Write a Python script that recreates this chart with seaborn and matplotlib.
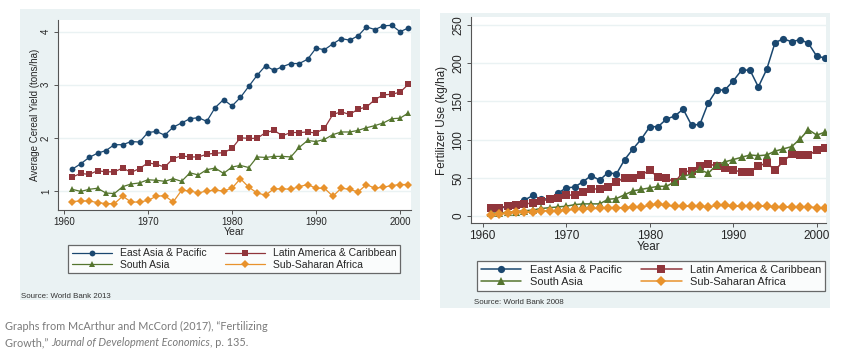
import numpy as np
import pandas as pd
import matplotlib
matplotlib.use("Agg")
import matplotlib.pyplot as plt
import seaborn as sns

# ---- data ----
years = list(range(1961, 2002))
regions = ["East Asia & Pacific", "Latin America & Caribbean", "South Asia", "Sub-Saharan Africa"]

yield_eap = [1.41, 1.51, 1.63, 1.71, 1.76, 1.87, 1.87, 1.93, 1.92, 2.10, 2.12, 2.05, 2.20, 2.28,
             2.36, 2.38, 2.31, 2.57, 2.72, 2.60, 2.76, 2.97, 3.18, 3.36, 3.27, 3.34, 3.40, 3.40,
             3.48, 3.69, 3.66, 3.77, 3.87, 3.84, 3.92, 4.09, 4.04, 4.11, 4.12, 4.00, 4.07]
yield_lac = [1.26, 1.33, 1.31, 1.38, 1.36, 1.36, 1.43, 1.35, 1.42, 1.53, 1.50, 1.45, 1.61, 1.66,
             1.64, 1.64, 1.69, 1.71, 1.72, 1.80, 2.00, 1.99, 1.99, 2.10, 2.14, 2.04, 2.10, 2.10,
             2.11, 2.09, 2.18, 2.44, 2.49, 2.44, 2.54, 2.58, 2.72, 2.81, 2.82, 2.86, 3.01]
yield_sa = [1.03, 0.99, 1.03, 1.05, 0.96, 0.95, 1.08, 1.13, 1.15, 1.21, 1.20, 1.18, 1.23, 1.18,
            1.34, 1.30, 1.40, 1.43, 1.33, 1.45, 1.48, 1.44, 1.64, 1.63, 1.65, 1.65, 1.64, 1.82,
            1.95, 1.93, 1.97, 2.06, 2.11, 2.11, 2.14, 2.19, 2.23, 2.28, 2.36, 2.37, 2.47]
yield_ssa = [0.80, 0.81, 0.81, 0.78, 0.76, 0.76, 0.90, 0.79, 0.79, 0.82, 0.90, 0.91, 0.79, 1.01,
             1.00, 0.96, 1.00, 1.01, 1.00, 1.05, 1.23, 1.07, 0.96, 0.92, 1.04, 1.04, 1.03, 1.08,
             1.12, 1.05, 1.05, 0.90, 1.05, 1.03, 0.98, 1.12, 1.05, 1.07, 1.10, 1.12, 1.12]

fert_eap = [10, 10, 13, 14, 21, 27, 22, 23, 30, 37, 38, 45, 53, 47, 57, 55, 74, 88, 101, 117,
            117, 127, 131, 140, 119, 120, 148, 165, 165, 177, 191, 191, 169, 192, 227, 232, 228,
            231, 226, 209, 207]
fert_lac = [10, 11, 13, 14, 16, 17, 20, 22, 24, 27, 28, 32, 35, 36, 38, 45, 50, 50, 54, 60,
            51, 50, 44, 58, 59, 66, 68, 66, 63, 60, 58, 58, 65, 70, 60, 72, 81, 80, 80, 86, 89]
fert_sa = [4, 4, 5, 6, 7, 8, 10, 11, 12, 13, 15, 16, 16, 16, 22, 23, 28, 33, 35, 37, 39, 39,
           45, 52, 55, 61, 56, 67, 71, 74, 77, 80, 79, 80, 85, 88, 91, 101, 113, 106, 110]
fert_ssa = [2, 3, 4, 5, 5, 6, 7, 7, 7, 8, 9, 9, 10, 10, 11, 11, 11, 12, 12, 14, 16, 14, 13,
            13, 13, 13, 12, 14, 14, 13, 13, 13, 13, 13, 12, 12, 12, 12, 12, 11, 11]

palette = {"East Asia & Pacific": "#1a476f", "Latin America & Caribbean": "#90353b",
           "South Asia": "#55752f", "Sub-Saharan Africa": "#e8922c"}
markers = {"East Asia & Pacific": "o", "Latin America & Caribbean": "s",
           "South Asia": "^", "Sub-Saharan Africa": "D"}


def to_long(series_list, col):
    frames = []
    for reg, vals in zip(regions, series_list):
        frames.append(pd.DataFrame({"Year": years, col: vals, "Region": reg}))
    return pd.concat(frames, ignore_index=True)


yield_df = to_long([yield_eap, yield_lac, yield_sa, yield_ssa], "Yield")
fert_df = to_long([fert_eap, fert_lac, fert_sa, fert_ssa], "Fert")

sns.set_style("white")
plt.rcParams['font.family'] = ['Liberation Sans', 'DejaVu Sans']

W, H = 850, 351
fig = plt.figure(figsize=(8.5, 3.51), dpi=100)
panel_bg = "#eaf2f3"


def box(x0, y0, x1, y1):
    # pixel box (top-left origin) -> figure fraction rect
    return [x0 / W, (H - y1) / H, (x1 - x0) / W, (y1 - y0) / H]


def panel(x0, y0, x1, y1):
    bg = fig.add_axes(box(x0, y0, x1, y1), zorder=0)
    bg.set_facecolor(panel_bg)
    bg.set_xticks([])
    bg.set_yticks([])
    for s in bg.spines.values():
        s.set_visible(False)
    return bg


def style_axes(ax, fs):
    ax.set_facecolor("white")
    for side in ["top", "right"]:
        ax.spines[side].set_visible(False)
    for side in ["left", "bottom"]:
        ax.spines[side].set_color("#555555")
        ax.spines[side].set_linewidth(0.8)
    ax.grid(axis="y", color=panel_bg, linewidth=1.0)
    ax.grid(axis="x", visible=False)
    ax.tick_params(axis="both", direction="out", length=3, width=0.7, color="#555555",
                   labelsize=fs, pad=2, left=True, bottom=True)
    for lab in ax.get_yticklabels():
        lab.set_rotation(90)
        lab.set_va("center")


def make_legend(ax, fs, center, ms, hl):
    handles, labels = ax.get_legend_handles_labels()
    ax.get_legend().remove()
    order = [0, 2, 1, 3]
    for h in handles:
        h.set_markersize(ms)
    leg = fig.legend([handles[i] for i in order], [labels[i] for i in order],
                     loc="center", bbox_to_anchor=(center[0] / W, (H - center[1]) / H),
                     ncol=2, fontsize=fs, frameon=True, fancybox=False, edgecolor="#444444",
                     handlelength=hl, columnspacing=1.8, handletextpad=0.75,
                     labelspacing=0.15, borderpad=0.35)
    leg.get_frame().set_linewidth(0.9)
    return leg


# ---- left panel: cereal yield ----
panel(20, 9, 420, 300)
ax1 = fig.add_axes(box(58, 20, 411, 210), zorder=1)
sns.lineplot(data=yield_df, x="Year", y="Yield", hue="Region", style="Region",
             palette=palette, markers=markers, dashes=False, markersize=4.2,
             markeredgewidth=0, linewidth=0.9, ax=ax1)
ax1.set_xlim(1959.3, 2001.3)
ax1.set_ylim(0.64, 4.22)
ax1.set_xticks([1960, 1970, 1980, 1990, 2000])
ax1.set_yticks([1, 2, 3, 4])
style_axes(ax1, 7)
ax1.set_xlabel("Year", fontsize=7.5, labelpad=0)
ax1.set_ylabel("Average Cereal Yield (tons/ha)", fontsize=7, labelpad=1)
make_legend(ax1, 7.5, (234, 259), 4.2, 3.85)
fig.text(21 / W, (H - 296) / H, "Source: World Bank 2013", fontsize=5.7,
         color="#333333", va="center")

# ---- right panel: fertilizer use ----
panel(440, 13, 830, 308)
ax2 = fig.add_axes(box(471, 17, 826, 223), zorder=1)
sns.lineplot(data=fert_df, x="Year", y="Fert", hue="Region", style="Region",
             palette=palette, markers=markers, dashes=False, markersize=5.2,
             markeredgewidth=0, linewidth=1.1, ax=ax2)
ax2.set_xlim(1958.6, 2001.1)
ax2.set_ylim(-9, 260.5)
ax2.set_xticks([1960, 1970, 1980, 1990, 2000])
ax2.set_yticks([0, 50, 100, 150, 200, 250])
style_axes(ax2, 8.5)
ax2.set_xlabel("Year", fontsize=8.5, labelpad=-1)
ax2.set_ylabel("Fertilizer Use (kg/ha)", fontsize=8.5, labelpad=3)
make_legend(ax2, 7.9, (651, 276), 5.2, 3.7)
fig.text(474 / W, (H - 303) / H, "Source: World Bank 2008", fontsize=5.7,
         color="#333333", va="center")

# ---- caption ----
cap = "#7a7a7a"
cap_font = ["Lato", "DejaVu Sans"]
cap_fs = 7.8
fig.text(5 / W, (H - 326) / H, "Graphs from McArthur and McCord (2017), \u201cFertilizing",
         fontsize=cap_fs, color=cap, va="center", family=cap_font)
t = fig.text(5 / W, (H - 343) / H, "Growth,\u201d ", fontsize=cap_fs, color=cap, va="center",
             family=cap_font)
fig.canvas.draw()
bb = t.get_window_extent()
t2 = fig.text(bb.x1 / W, (H - 343) / H, "Journal of Development Economics", fontsize=cap_fs,
              color=cap, va="center", style="italic", family=cap_font)
fig.canvas.draw()
bb2 = t2.get_window_extent()
fig.text(bb2.x1 / W, (H - 343) / H, ", p. 135.", fontsize=cap_fs, color=cap, va="center",
         family=cap_font)

fig.savefig("out.png", dpi=100, facecolor="white")
